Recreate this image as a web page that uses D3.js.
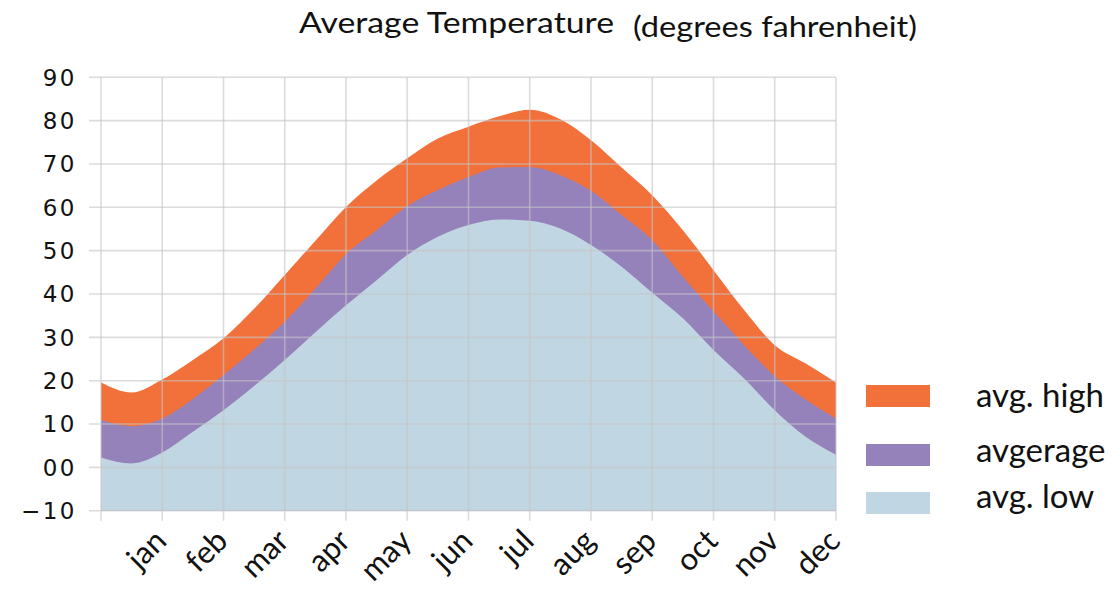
<!DOCTYPE html>
<html>
<head>
<meta charset="utf-8">
<script src="https://cdn.jsdelivr.net/npm/d3@7"></script>
<style>
  html, body { margin: 0; padding: 0; background: #fff; }
  svg { display: block; }
  .ytick { font-family: "DejaVu Sans", sans-serif; font-size: 23px; letter-spacing: 2.5px; fill: #111; }
  .xtick { font-family: Lato, sans-serif; font-size: 31px; fill: #111; }
  .title { font-family: Lato, sans-serif; font-size: 29px; fill: #111; }
  .legend-text { font-family: Lato, sans-serif; font-size: 33px; fill: #111; }
</style>
</head>
<body>
<svg id="chart" width="1120" height="592"></svg>
<script>
// Month labels sit on positions 1..12; position 0 is the preceding December.
const months = ["jan", "feb", "mar", "apr", "may", "jun", "jul", "aug", "sep", "oct", "nov", "dec"];
const monthPos = [1, 2, 3, 4, 5, 6, 7, 8, 9, 10, 11, 12];

// Sample positions (half-month steps) and temperatures in °F.
const samplePos = [0, 0.5, 1, 1.5, 2, 2.5, 3, 3.5, 4, 4.5, 5, 5.5, 6, 6.5, 7, 7.5, 8, 8.5, 9, 9.5, 10, 10.5, 11, 11.5, 12];
const highTemp = [19.6, 17.3, 20.3, 24.8, 29.8, 36.6, 44.4, 52.3, 60.1, 66.2, 71.3, 75.9, 78.6, 81.0, 82.5, 80.3, 75.5, 69.2, 62.8, 54.7, 45.5, 36.3, 28.2, 24.0, 19.6];
const avgTemp  = [10.9, 9.5, 11.3, 15.8, 21.3, 27.2, 33.6, 41.2, 49.2, 54.7, 60.3, 64.0, 67.0, 69.2, 69.3, 67.4, 63.8, 58.2, 52.4, 44.0, 36.0, 28.2, 21.0, 15.7, 11.3];
const lowTemp  = [2.3, 0.9, 3.4, 8.2, 13.2, 18.8, 24.8, 31.2, 37.4, 43.2, 49.0, 53.2, 55.9, 57.2, 56.9, 55.1, 51.3, 46.3, 40.3, 34.4, 27.1, 20.5, 13.2, 7.1, 2.9];

const yTicks = [-10, 0, 10, 20, 30, 40, 50, 60, 70, 80, 90];

const seriesNames = ["avg. high", "avgerage", "avg. low"];
const seriesColors = ["#f2713b", "#9682bb", "#c0d6e2"];

const svg = d3.select("#chart");

const x = d3.scaleLinear().domain([0, 12]).range([101, 836]);
const y = d3.scaleLinear().domain([-10, 90]).range([510.7, 77.3]);
const fmt = d3.format("02d");

// Filled areas from the bottom of the scale, drawn highest first.
const series = [highTemp, avgTemp, lowTemp];
const area = d3.area()
  .x((d, i) => x(samplePos[i]))
  .y0(y(-10))
  .y1(d => y(d))
  .curve(d3.curveMonotoneX);

svg.append("g")
  .selectAll("path")
  .data(series)
  .join("path")
  .attr("d", d => area(d))
  .attr("fill", (d, i) => seriesColors[i]);

// Grid on top of the areas
const grid = svg.append("g")
  .attr("stroke", "#c4c4c4")
  .attr("stroke-opacity", 0.6)
  .attr("stroke-width", 1.6);

grid.selectAll("line.h")
  .data(yTicks)
  .join("line")
  .attr("class", "h")
  .attr("x1", x(0) - 12)
  .attr("x2", x(12))
  .attr("y1", d => y(d))
  .attr("y2", d => y(d));

grid.selectAll("line.v")
  .data([0].concat(monthPos))
  .join("line")
  .attr("class", "v")
  .attr("x1", d => x(d))
  .attr("x2", d => x(d))
  .attr("y1", y(90))
  .attr("y2", y(-10) + 10);

// Y labels
svg.append("g")
  .selectAll("text")
  .data(yTicks)
  .join("text")
  .attr("class", "ytick")
  .attr("x", 77)
  .attr("y", d => y(d))
  .attr("dy", "0.36em")
  .attr("text-anchor", "end")
  .text(d => fmt(d));

// Month labels, rotated
svg.append("g")
  .selectAll("text")
  .data(months)
  .join("text")
  .attr("class", "xtick")
  .attr("text-anchor", "end")
  .attr("transform", (d, i) => `translate(${x(monthPos[i]) + 6},${y(-10) + 32}) rotate(-45)`)
  .text(d => d);

// Title
svg.append("text").attr("class", "title")
  .attr("x", 299).attr("y", 33)
  .attr("textLength", 315).attr("lengthAdjust", "spacingAndGlyphs")
  .text("Average Temperature");
svg.append("text").attr("class", "title")
  .attr("x", 633).attr("y", 37)
  .attr("textLength", 284).attr("lengthAdjust", "spacingAndGlyphs")
  .text("(degrees fahrenheit)");

// Legend
const legendRectY = [385, 444, 492];
const legendTextY = [407, 462, 508];
const legend = svg.append("g");
legend.selectAll("rect")
  .data(seriesNames)
  .join("rect")
  .attr("x", 866)
  .attr("y", (d, i) => legendRectY[i])
  .attr("width", 64)
  .attr("height", 22)
  .attr("fill", (d, i) => seriesColors[i]);
legend.selectAll("text")
  .data(seriesNames)
  .join("text")
  .attr("class", "legend-text")
  .attr("x", 976)
  .attr("y", (d, i) => legendTextY[i])
  .text(d => d);
</script>
</body>
</html>
